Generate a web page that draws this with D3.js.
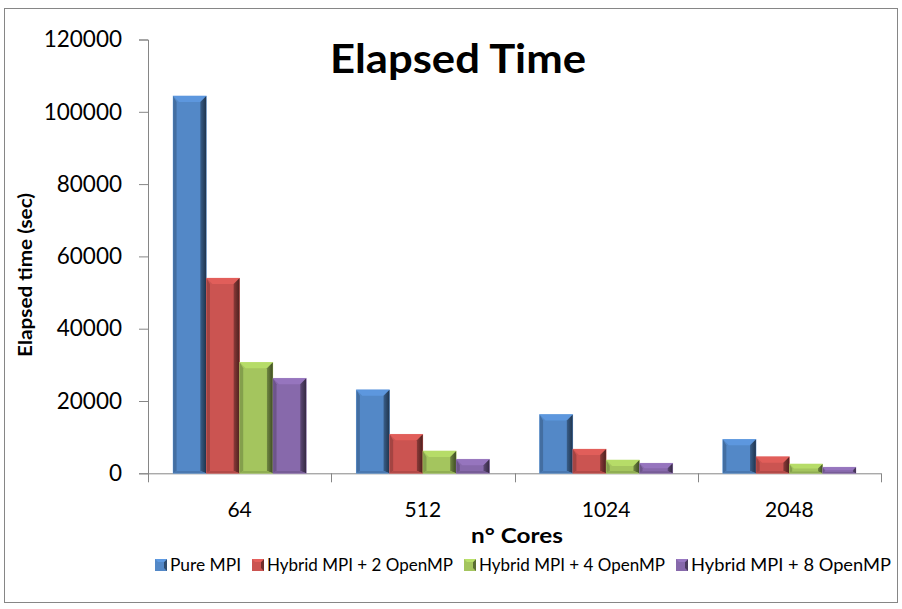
<!DOCTYPE html>
<html>
<head>
<meta charset="utf-8">
<script src="https://cdn.jsdelivr.net/npm/d3@7/dist/d3.min.js"></script>
<style>
  html, body { margin: 0; padding: 0; background: #fff; }
  svg text { font-family: Lato, "Open Sans", sans-serif; fill: #000; }
</style>
</head>
<body>
<svg id="chart" width="902" height="609"></svg>
<script>
// Core counts on the x axis
const cores = ["64", "512", "1024", "2048"];

// Series names as shown in the legend
const seriesNames = ["Pure MPI", "Hybrid MPI + 2 OpenMP", "Hybrid MPI + 4 OpenMP", "Hybrid MPI + 8 OpenMP"];

// Elapsed time (sec), one array per series, ordered as `cores`
const pureMPI   = [104400, 23100, 16300, 9400];
const hybrid2   = [54000, 10800, 6700, 4600];
const hybrid4   = [30700, 6200, 3700, 2600];
const hybrid8   = [26300, 3900, 2800, 1700];

// Y axis tick values
const yTicks = [0, 20000, 40000, 60000, 80000, 100000, 120000];

const seriesColors = ["#4F81BD", "#C0504D", "#9BBB59", "#8064A2"];
const seriesValues = [pureMPI, hybrid2, hybrid4, hybrid8];

const svg = d3.select("#chart");
const axisColor = "#868686";

// Outer chart frame
svg.append("rect")
  .attr("x", 4.5).attr("y", 8.5)
  .attr("width", 893).attr("height", 594)
  .attr("fill", "#fff").attr("stroke", axisColor).attr("stroke-width", 1);

const plot = { left: 148, right: 881, top: 39.5, bottom: 473.3 };

const y = d3.scaleLinear().domain([0, 120000]).range([plot.bottom, plot.top]);
const x0 = d3.scaleBand().domain(cores).range([plot.left, plot.right]).padding(0);
const bw = x0.bandwidth();
// gap width of 150% of a bar: 4 bars + 1.5 bar-widths per category
const x1 = d3.scaleBand().domain(seriesNames)
  .range([bw * 0.75 / 5.5, bw * 4.75 / 5.5]).padding(0);

// Y axis
const yAxis = d3.axisLeft(y).tickValues(yTicks).tickSize(9).tickPadding(17).tickFormat(d3.format("d"));
const gy = svg.append("g").attr("transform", `translate(${plot.left},0)`).call(yAxis);
gy.select(".domain").attr("stroke", axisColor);
gy.selectAll(".tick line").attr("stroke", axisColor);
gy.selectAll(".tick text").attr("font-size", 22.5).attr("font-family", "Lato, sans-serif").attr("fill", "#000");

// X axis line and category separator ticks
const gx = svg.append("g");
gx.append("line")
  .attr("x1", plot.left).attr("x2", plot.right)
  .attr("y1", y(0) + 0.5).attr("y2", y(0) + 0.5)
  .attr("stroke", axisColor);
const boundaries = cores.map(c => x0(c)).concat([x0(cores[cores.length - 1]) + bw]);
gx.selectAll("line.sep").data(boundaries).enter().append("line")
  .attr("class", "sep")
  .attr("x1", d => Math.round(d) + 0.5).attr("x2", d => Math.round(d) + 0.5)
  .attr("y1", y(0)).attr("y2", y(0) + 9)
  .attr("stroke", axisColor);
gx.selectAll("text.cat").data(cores).enter().append("text")
  .attr("class", "cat")
  .attr("x", d => x0(d) + bw / 2)
  .attr("y", 517)
  .attr("text-anchor", "middle")
  .attr("font-size", 21)
  .text(d => d);

// Bevelled bars
const defs = svg.append("defs");
seriesColors.forEach((c, i) => {
  const g = defs.append("linearGradient").attr("id", "edge" + i)
    .attr("x1", 0).attr("x2", 1).attr("y1", 0).attr("y2", 0);
  g.append("stop").attr("offset", 0).attr("stop-color", d3.color(c).darker(0.9));
  g.append("stop").attr("offset", 1).attr("stop-color", d3.color(c).darker(2.6));
});

const bars = [];
cores.forEach((c, ci) => {
  seriesNames.forEach((s, si) => {
    bars.push({ core: c, series: s, si: si, value: seriesValues[si][ci] });
  });
});

const barG = svg.append("g");
bars.forEach(d => {
  const bx = x0(d.core) + x1(d.series);
  const w = x1.bandwidth();
  const top = y(d.value);
  const bot = y(0);
  const h = bot - top;
  const b = Math.min(6, h / 2);
  const base = d3.color(seriesColors[d.si]);
  const g = barG.append("g");
  g.append("rect").attr("x", bx).attr("y", top).attr("width", w).attr("height", h)
    .attr("fill", base.brighter(0.15));
  // top facet
  g.append("polygon")
    .attr("points", [[bx, top], [bx + w, top], [bx + w - b, top + b], [bx + b, top + b]].join(" "))
    .attr("fill", base.brighter(0.45));
  // left facet
  g.append("polygon")
    .attr("points", [[bx, top], [bx + b * 0.6, top + b], [bx + b * 0.6, bot - b * 0.4], [bx, bot]].join(" "))
    .attr("fill", base.darker(0.45));
  // right facet
  g.append("polygon")
    .attr("points", [[bx + w, top], [bx + w, bot], [bx + w - b, bot - b * 0.4], [bx + w - b, top + b]].join(" "))
    .attr("fill", `url(#edge${d.si})`);
  // bottom facet
  g.append("polygon")
    .attr("points", [[bx, bot], [bx + w, bot], [bx + w - b, bot - b * 0.4], [bx + b * 0.6, bot - b * 0.4]].join(" "))
    .attr("fill", base.darker(0.2));
  g.append("rect").attr("x", bx).attr("y", top).attr("width", w).attr("height", h)
    .attr("fill", "none").attr("stroke", base.brighter(0.6)).attr("stroke-opacity", 0.5).attr("stroke-width", 0.6);
});

// Titles
svg.append("text")
  .attr("x", 458).attr("y", 73)
  .attr("text-anchor", "middle")
  .attr("font-size", 40).attr("font-weight", "bold")
  .attr("textLength", 256).attr("lengthAdjust", "spacingAndGlyphs")
  .text("Elapsed Time");

svg.append("text")
  .attr("transform", "translate(32,275) rotate(-90)")
  .attr("text-anchor", "middle")
  .attr("font-size", 19).attr("font-weight", "bold")
  .attr("textLength", 164).attr("lengthAdjust", "spacingAndGlyphs")
  .text("Elapsed time (sec)");

svg.append("text")
  .attr("x", 517).attr("y", 543)
  .attr("text-anchor", "middle")
  .attr("font-size", 20).attr("font-weight", "bold")
  .attr("textLength", 92).attr("lengthAdjust", "spacingAndGlyphs")
  .text("n° Cores");

// Legend
const legendX = [155, 252, 464, 676];
const legendW = [71, 186, 186, 200];
const legendY = 571;
const lg = svg.append("g");
seriesNames.forEach((s, i) => {
  const base = d3.color(seriesColors[i]);
  const sx = legendX[i];
  lg.append("rect").attr("x", sx).attr("y", legendY - 12).attr("width", 12).attr("height", 12)
    .attr("fill", base.brighter(0.15));
  lg.append("polygon")
    .attr("points", [[sx + 12, legendY - 12], [sx + 12, legendY], [sx + 9, legendY - 3], [sx + 9, legendY - 9]].join(" "))
    .attr("fill", base.darker(1.5));
  lg.append("polygon")
    .attr("points", [[sx, legendY - 12], [sx + 12, legendY - 12], [sx + 9, legendY - 9], [sx + 3, legendY - 9]].join(" "))
    .attr("fill", base.brighter(0.5));
  lg.append("text")
    .attr("x", sx + 15).attr("y", legendY)
    .attr("font-size", 17)
    .attr("textLength", legendW[i]).attr("lengthAdjust", "spacingAndGlyphs")
    .text(s);
});
</script>
</body>
</html>
